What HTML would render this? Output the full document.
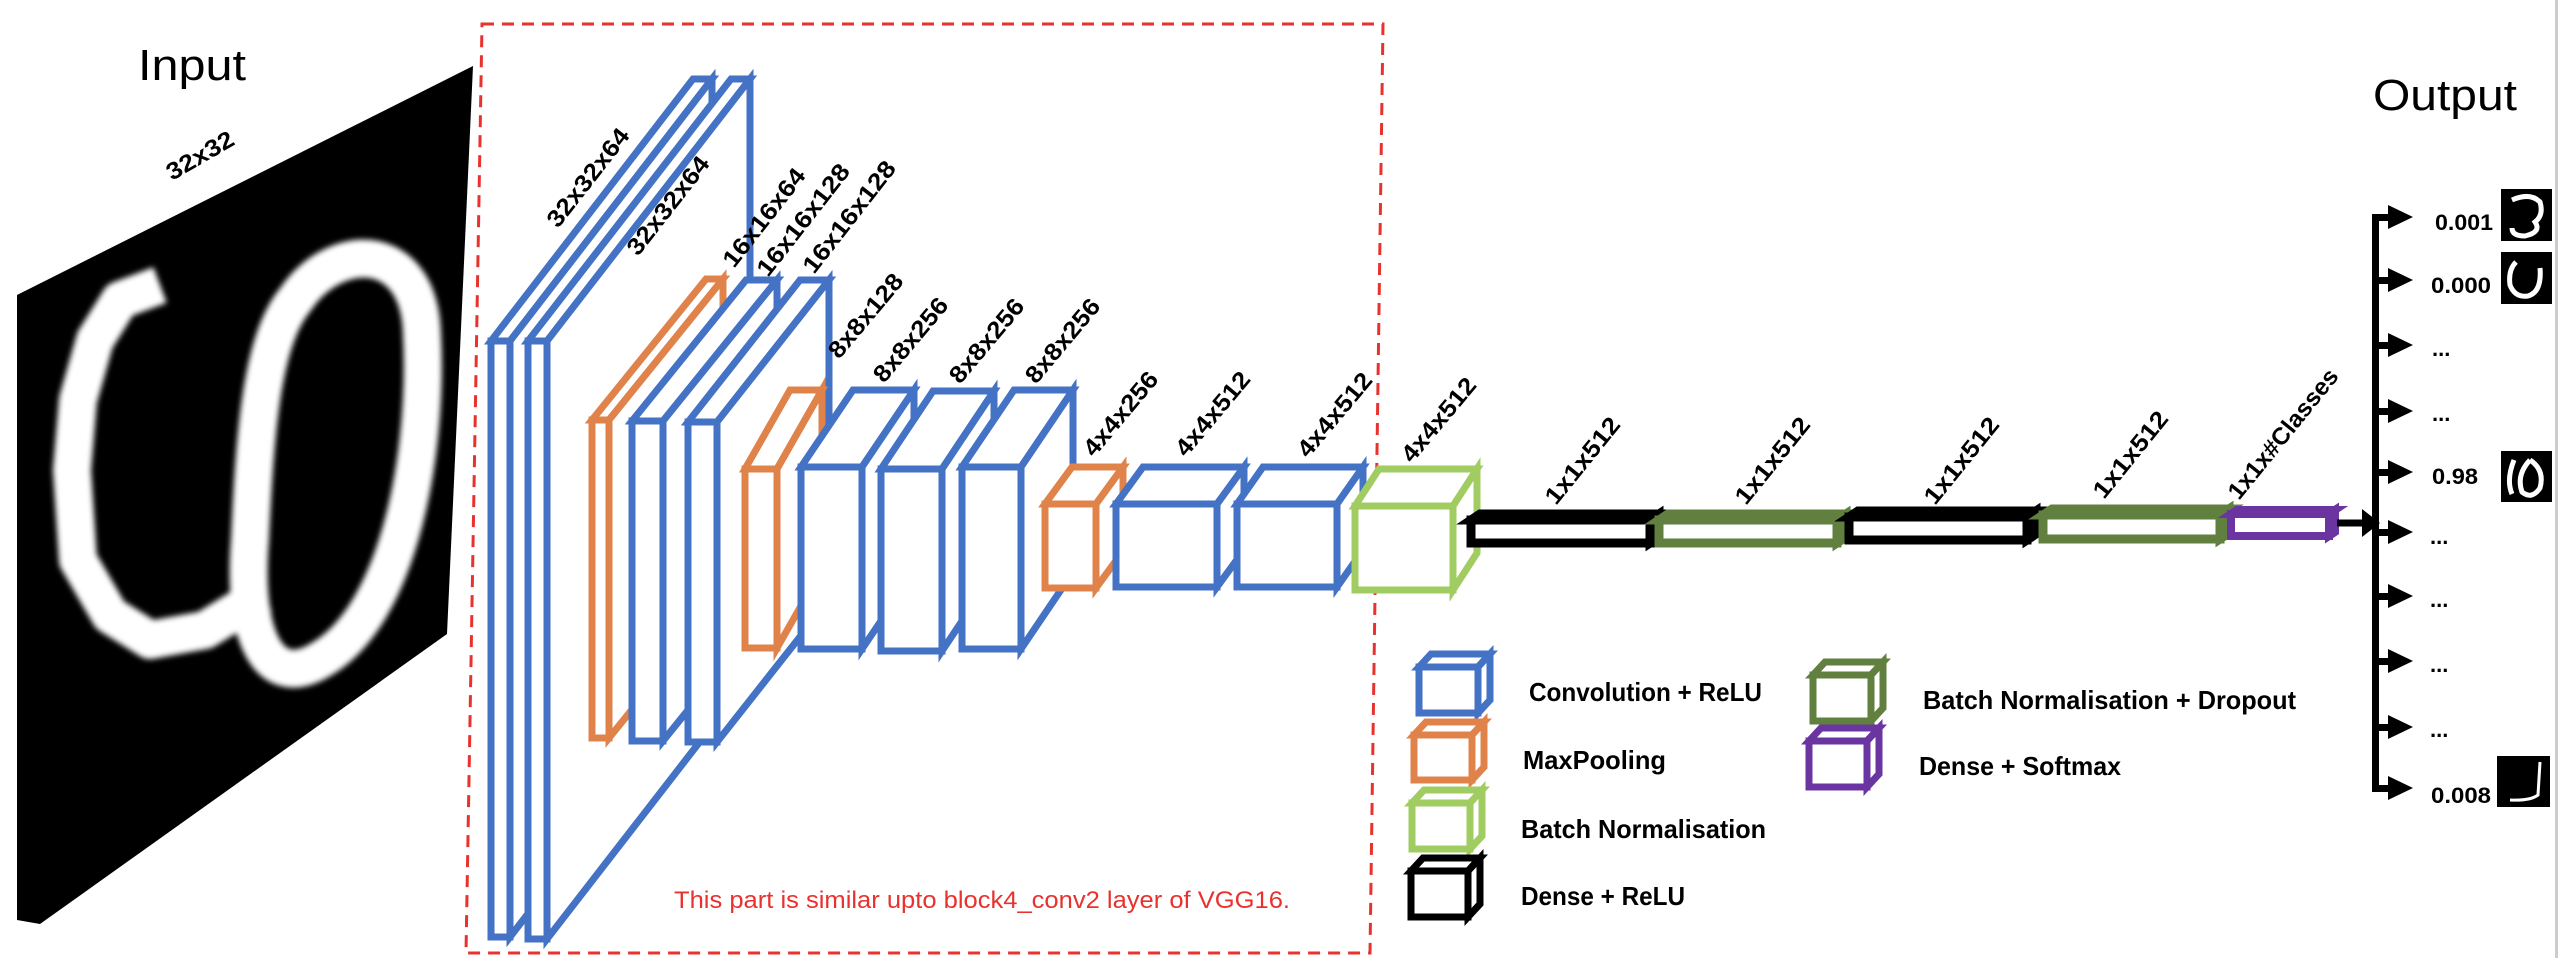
<!DOCTYPE html>
<html><head><meta charset="utf-8"><style>
html,body{margin:0;padding:0;background:#fff;width:2560px;height:958px;overflow:hidden}
svg{display:block}
.lb{font-family:"Liberation Sans",sans-serif;font-weight:bold;font-size:24px;fill:#000}
.lg{font-family:"Liberation Sans",sans-serif;font-weight:bold;font-size:26px;fill:#000}
.ov{font-family:"Liberation Sans",sans-serif;font-weight:bold;font-size:22px;fill:#000}
</style></head><body>
<svg id="s" width="2560" height="958" viewBox="0 0 2560 958" xmlns="http://www.w3.org/2000/svg">
<defs><filter id="bl"><feGaussianBlur stdDeviation="3"/></filter></defs>
<rect x="2555" y="0" width="3" height="958" fill="#ccc"/>
<!-- Input -->
<text x="138" y="80" font-family="Liberation Sans,sans-serif" font-size="44" fill="#000" textLength="108" lengthAdjust="spacingAndGlyphs">Input</text>
<polygon points="17,295 473,66 447,634 40,924 17,920" fill="#000"/>
<g fill="none" stroke="#fff" stroke-width="38" stroke-linejoin="round" filter="url(#bl)">
<path d="M160,285 L120,300 L95,340 L78,400 L72,470 L78,560 L110,615 L150,640 L205,630 L262,595"/>
<path d="M295,300 C335,240 420,240 422,335 C428,450 400,615 320,660 C270,690 242,640 250,540 C255,430 262,340 295,300 Z"/>
</g>
<text x="172" y="181" class="lb" font-size="19" transform="rotate(-30 172 181)" textLength="74" lengthAdjust="spacingAndGlyphs">32x32</text>
<!-- red dashed box -->
<polygon points="482,24 1383,24 1370,953 466,953" fill="none" stroke="#E8322E" stroke-width="3" stroke-dasharray="12,8"/>
<text x="674" y="908" font-family="Liberation Sans,sans-serif" font-size="24" fill="#E8322E" textLength="616" lengthAdjust="spacingAndGlyphs">This part is similar upto block4_conv2 layer of VGG16.</text>
<g id="boxes"></g>
<!-- labels -->
<g class="lb">
<text transform="translate(558,229) rotate(-52)" textLength="118" lengthAdjust="spacingAndGlyphs">32x32x64</text>
<text transform="translate(638,257) rotate(-52)" textLength="118" lengthAdjust="spacingAndGlyphs">32x32x64</text>
<text transform="translate(734,269) rotate(-52)" textLength="118" lengthAdjust="spacingAndGlyphs">16x16x64</text>
<text transform="translate(768,278) rotate(-52)" textLength="135" lengthAdjust="spacingAndGlyphs">16x16x128</text>
<text transform="translate(814,275) rotate(-52)" textLength="135" lengthAdjust="spacingAndGlyphs">16x16x128</text>
<text transform="translate(839,360) rotate(-50)" textLength="102" lengthAdjust="spacingAndGlyphs">8x8x128</text>
<text transform="translate(884,384) rotate(-50)" textLength="102" lengthAdjust="spacingAndGlyphs">8x8x256</text>
<text transform="translate(960,385) rotate(-50)" textLength="102" lengthAdjust="spacingAndGlyphs">8x8x256</text>
<text transform="translate(1036,385) rotate(-50)" textLength="102" lengthAdjust="spacingAndGlyphs">8x8x256</text>
<text transform="translate(1094,458) rotate(-50)" textLength="102" lengthAdjust="spacingAndGlyphs">4x4x256</text>
<text transform="translate(1186,458) rotate(-50)" textLength="102" lengthAdjust="spacingAndGlyphs">4x4x512</text>
<text transform="translate(1308,459) rotate(-50)" textLength="102" lengthAdjust="spacingAndGlyphs">4x4x512</text>
<text transform="translate(1412,464) rotate(-50)" textLength="102" lengthAdjust="spacingAndGlyphs">4x4x512</text>
<text transform="translate(1556,506) rotate(-51)" textLength="104" lengthAdjust="spacingAndGlyphs">1x1x512</text>
<text transform="translate(1746,506) rotate(-51)" textLength="104" lengthAdjust="spacingAndGlyphs">1x1x512</text>
<text transform="translate(1935,506) rotate(-51)" textLength="104" lengthAdjust="spacingAndGlyphs">1x1x512</text>
<text transform="translate(2104,500) rotate(-51)" textLength="104" lengthAdjust="spacingAndGlyphs">1x1x512</text>
<text transform="translate(2239,501) rotate(-51)" textLength="160" lengthAdjust="spacingAndGlyphs">1x1x#Classes</text>
</g>
<!-- output -->
<text x="2373" y="110" font-family="Liberation Sans,sans-serif" font-size="44" fill="#000" textLength="144" lengthAdjust="spacingAndGlyphs">Output</text>
<path d="M2337,523 L2366,523" stroke="#000" stroke-width="7"/>
<polygon points="2362,509 2380,523 2362,537" fill="#000"/>
<rect x="2372" y="214" width="7" height="578" fill="#000"/>
<g id="arr"></g>
<g class="ov">
<text x="2435" y="230" textLength="58" lengthAdjust="spacingAndGlyphs">0.001</text>
<text x="2431" y="293" textLength="60" lengthAdjust="spacingAndGlyphs">0.000</text>
<text x="2432" y="356">...</text>
<text x="2432" y="421">...</text>
<text x="2432" y="484" textLength="46" lengthAdjust="spacingAndGlyphs">0.98</text>
<text x="2430" y="544">...</text>
<text x="2430" y="607">...</text>
<text x="2430" y="672">...</text>
<text x="2430" y="737">...</text>
<text x="2431" y="803" textLength="60" lengthAdjust="spacingAndGlyphs">0.008</text>
</g>
<rect x="2501" y="189" width="51" height="52" fill="#000"/>
<path d="M2512,200 Q2530,192 2540,202 Q2544,215 2535,222 Q2542,232 2525,236 Q2512,236 2512,228" fill="none" stroke="#fff" stroke-width="5"/>
<rect x="2501" y="252" width="51" height="52" fill="#000"/>
<path d="M2516,262 Q2508,270 2510,285 Q2515,298 2528,296 Q2542,292 2540,268" fill="none" stroke="#fff" stroke-width="5"/>
<rect x="2501" y="451" width="51" height="51" fill="#000"/>
<path d="M2514,460 Q2506,480 2512,494 M2530,460 Q2545,470 2540,488 Q2532,500 2522,492 Q2516,475 2530,460" fill="none" stroke="#fff" stroke-width="5"/>
<rect x="2497" y="756" width="53" height="51" fill="#000"/>
<path d="M2540,762 L2538,795 Q2530,801 2510,800" fill="none" stroke="#fff" stroke-width="3"/>
<!-- legend -->
<g id="leg"></g>
<g class="lg">
<text x="1529" y="701" textLength="233" lengthAdjust="spacingAndGlyphs">Convolution + ReLU</text>
<text x="1523" y="769" textLength="143" lengthAdjust="spacingAndGlyphs">MaxPooling</text>
<text x="1521" y="838" textLength="245" lengthAdjust="spacingAndGlyphs">Batch Normalisation</text>
<text x="1521" y="905" textLength="164" lengthAdjust="spacingAndGlyphs">Dense + ReLU</text>
<text x="1923" y="709" textLength="373" lengthAdjust="spacingAndGlyphs">Batch Normalisation + Dropout</text>
<text x="1919" y="775" textLength="202" lengthAdjust="spacingAndGlyphs">Dense + Softmax</text>
</g>
</svg>
<script>
var NS="http://www.w3.org/2000/svg";
function box(g,x,y,w,h,dx,dy,c,sw){
 var pts=[[[x,y],[x+dx,y+dy],[x+w+dx,y+dy],[x+w,y]],[[x+w,y],[x+w+dx,y+dy],[x+w+dx,y+h+dy],[x+w,y+h]],[[x,y],[x+w,y],[x+w,y+h],[x,y+h]]];
 pts.forEach(function(p){var e=document.createElementNS(NS,"polygon");e.setAttribute("points",p.map(function(q){return q.join(",")}).join(" "));e.setAttribute("fill","#fff");e.setAttribute("stroke",c);e.setAttribute("stroke-width",sw);e.setAttribute("stroke-linejoin","miter");g.appendChild(e);});
}
var B="#4472C4",O="#E0834A",LG="#A0CC62",DG="#61803F",K="#000",P="#6A35A0";
var g=document.getElementById("boxes");
box(g,491,341,19,596,202,-262,B,7);
box(g,528,341,19,598,203,-262,B,7);
box(g,592,420,17,318,114,-141,O,7);
box(g,632,421,31,320,114,-141,B,7);
box(g,688,422,29,320,112,-142,B,7);
box(g,745,469,32,179,45,-79,O,7);
box(g,801,467,61,182,52,-77,B,7);
box(g,881,469,61,182,52,-78,B,7);
box(g,962,467,59,182,52,-77,B,7);
box(g,1045,504,51,84,27,-37,O,7);
box(g,1116,504,101,83,27,-37,B,7);
box(g,1237,504,100,83,26,-37,B,7);
box(g,1355,506,98,84,24,-37,LG,7);
box(g,1471,520,179,23,9,-6,K,9);
box(g,1659,520,178,23,9,-6,DG,9);
box(g,1849,517,178,23,9,-6,K,9);
box(g,2043,515,177,24,9,-6,DG,9);
box(g,2231,514,98,22,6,-4,P,8);
var l=document.getElementById("leg");
box(l,1419,667,59,46,12,-13,B,7);
box(l,1414,735,58,45,12,-13,O,7);
box(l,1412,803,58,46,12,-13,LG,7);
box(l,1411,871,57,46,12,-13,K,7);
box(l,1813,675,58,46,12,-13,DG,7);
box(l,1809,741,58,46,12,-13,P,7);
var a=document.getElementById("arr");
[217,280,345,411,472,532,596,661,727,788].forEach(function(y){
 a.innerHTML+='<rect x="2375" y="'+(y-3)+'" width="16" height="7" fill="#000"/><polygon points="2388,'+(y-12)+' 2413,'+y+' 2388,'+(y+12)+'" fill="#000"/>';
});
</script>
</body></html>
